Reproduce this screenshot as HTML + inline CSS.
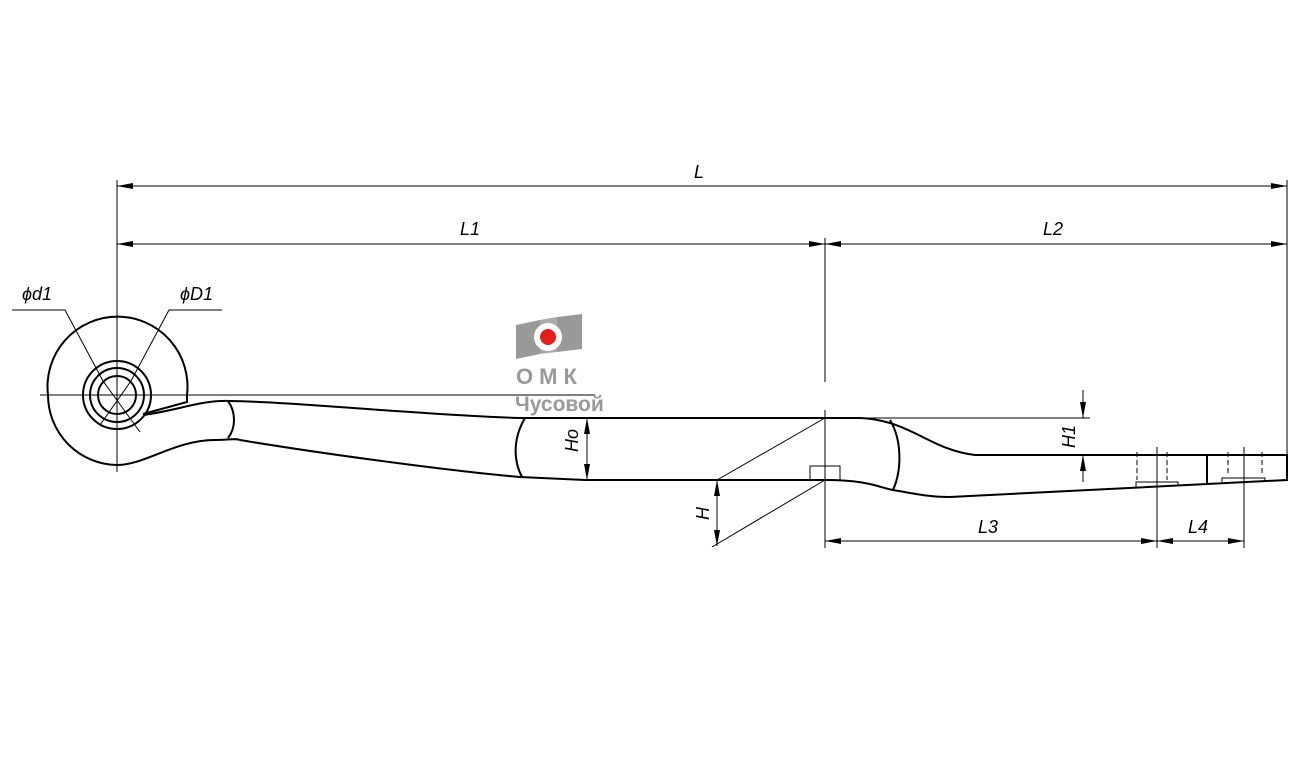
<!DOCTYPE html>
<html><head><meta charset="utf-8"><style>body{margin:0;background:#fff}svg{display:block}</style></head>
<body>
<svg width="1297" height="775" viewBox="0 0 1297 775" xmlns="http://www.w3.org/2000/svg">
<defs>
<marker id="a" viewBox="0 0 16 6" refX="16" refY="3" markerWidth="16" markerHeight="6" orient="auto-start-reverse" markerUnits="userSpaceOnUse"><path d="M0,0 L16,3 L0,6 Z" fill="#000"/></marker>
</defs>
<g fill="none" stroke="#000" stroke-width="1">
<line x1="117" y1="180" x2="117" y2="472"/>
<line x1="40" y1="395" x2="595" y2="395"/>
<line x1="825" y1="238" x2="825" y2="382"/>
<line x1="825" y1="410" x2="825" y2="548"/>
<line x1="1287" y1="180" x2="1287" y2="455"/>
<line x1="825" y1="418" x2="1090" y2="418"/>
<line x1="1157" y1="447" x2="1157" y2="548"/>
<line x1="1244" y1="447" x2="1244" y2="548"/>
<line x1="117" y1="186" x2="1287" y2="186" marker-start="url(#a)" marker-end="url(#a)"/>
<line x1="117" y1="244" x2="825" y2="244" marker-start="url(#a)" marker-end="url(#a)"/>
<line x1="825" y1="244" x2="1287" y2="244" marker-start="url(#a)" marker-end="url(#a)"/>
<line x1="825" y1="541" x2="1157" y2="541" marker-start="url(#a)" marker-end="url(#a)"/>
<line x1="1157" y1="541" x2="1244" y2="541" marker-start="url(#a)" marker-end="url(#a)"/>
<line x1="587" y1="418" x2="587" y2="480" marker-start="url(#a)" marker-end="url(#a)"/>
<line x1="717" y1="480" x2="717" y2="546" marker-start="url(#a)" marker-end="url(#a)"/>
<line x1="1083" y1="390" x2="1083" y2="418" marker-end="url(#a)"/>
<line x1="1083" y1="482" x2="1083" y2="455" marker-end="url(#a)"/>
<line x1="717" y1="480" x2="825" y2="418"/>
<line x1="712" y1="547" x2="825" y2="480"/>
<polyline points="12,310 65,310 103,381"/>
<polyline points="222,310 169,310 131,381"/>
<line x1="103" y1="381" x2="140" y2="432"/>
<line x1="131" y1="381" x2="100" y2="425"/>
<polyline points="810,480 810,466 840,466 840,480"/>
<polyline points="1137,452 1137,480" stroke-dasharray="5,3"/>
<polyline points="1167,452 1167,480" stroke-dasharray="5,3"/>
<polyline points="1228,452 1228,476" stroke-dasharray="5,3"/>
<polyline points="1262,452 1262,476" stroke-dasharray="5,3"/>
<polyline points="1136,487 1136,482 1178,482 1178,486"/>
<polyline points="1222,482 1222,478 1265,478 1265,480"/>
</g>
<g fill="none" stroke="#000" stroke-width="2">
<circle cx="117" cy="395" r="34"/>
<circle cx="117" cy="395" r="27"/>
<circle cx="117" cy="395" r="19"/>
<path d="M187,395 A70,70 0 1 0 48,395 A70,70 0 0 0 117,465 C145,465 175,440 215,440 C230,440 235,438 240,440 C330,455 460,472 520,477 L585,480 L825,480 C870,480 880,488 893,490 C915,494 930,497 950,497 L1287,480 L1287,455 L975,455 C930,450 910,420 860,418 L520,418 C420,415 300,402 230,401 C200,400 180,410 143,415"/>
<polyline points="187,395 187,402 143,414"/>
<path d="M228,401 C236,412 236,428 228,438"/>
<path d="M525,418 C512,440 514,462 522,477"/>
<path d="M890,420 C902,440 902,470 893,490"/>
<line x1="1207" y1="455" x2="1207" y2="483"/>
</g>
<g font-family="Liberation Sans, sans-serif" font-style="italic" font-size="18" fill="#000">
<text x="694" y="178">L</text>
<text x="460" y="235">L1</text>
<text x="1043" y="235">L2</text>
<text x="978" y="533">L3</text>
<text x="1188" y="533">L4</text>
<text x="22" y="300">ϕd1</text>
<text x="180" y="300">ϕD1</text>
<text transform="translate(578,452) rotate(-90)">Ho</text>
<text transform="translate(709,520) rotate(-90)">H</text>
<text transform="translate(1075,448) rotate(-90)">H1</text>
</g>
<g>
<path d="M516,325 L540,320 L540,354 L516,359 Z" fill="#999"/>
<path d="M557,317 L582,314 L582,349 L557,352 Z" fill="#999"/>
<path d="M540,320 L557,317 L557,352 L540,354 Z" fill="#aaa"/>
<circle cx="548" cy="337" r="14" fill="#fff"/>
<circle cx="548" cy="337" r="8" fill="#e31e1e"/>
<text x="516" y="384" font-family="Liberation Sans, sans-serif" font-weight="bold" font-size="22" fill="#999" letter-spacing="6">ОМК</text>
<text x="515" y="411" font-family="Liberation Sans, sans-serif" font-weight="bold" font-size="21" fill="#999">Чусовой</text>
</g>
</svg>
</body></html>
